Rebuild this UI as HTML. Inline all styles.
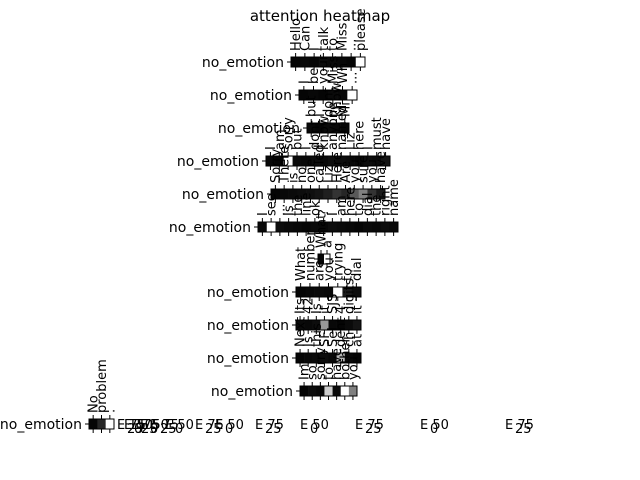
<!DOCTYPE html>
<html><head><meta charset="utf-8"><style>
body{margin:0;background:#fff;}
svg{display:block;font-family:"DejaVu Sans","Liberation Sans",sans-serif;}
</style></head><body>
<svg id="c" width="640" height="480">
<text x="320" y="21" text-anchor="middle" font-size="15">attention heatmap</text>
</svg>
<script>
const rowLabels = ["no_emotion","no_emotion","no_emotion","no_emotion","no_emotion","no_emotion","","no_emotion","no_emotion","no_emotion","no_emotion","no_emotion"];
const rowWords = [
 ["Hello","Can","I","talk","to","Miss","...","please"],
 ["I","be","your","Miss","Wh","..."],
 ["but","I","dont","know","Mi"],
 ["I","am","sorry","but","I","dont","know","anyone","named","Liz","here","I","must","have"],
 ["Sorry","There","is","no","one","called","Liz","Here","Are","you","sure","you","have"],
 ["I","see","...","Is","the","line","ok","?","I","am","here","to","dial","the","right","name"],
 ["What","a"],
 ["What","number","are","you","trying","to","dial"],
 ["Its","42","Is","it","SJS","4","digits","it"],
 ["Next","Is","this","SF","Sel","dent","ch","at"],
 ["Im","so","sorry","to","have","bother","you"],
 ["No","problem","."]
];
const rowValues = [
 [0.02,0.03,0.02,0.05,0.04,0.03,0.02,1],
 [0.02,0.03,0.02,0.04,0.03,1],
 [0.03,0.02,0.04,0.03,0.02],
 [0.03,0.02,1,0.04,0.03,0.05,0.04,0.06,0.05,0.04,0.03,0.05,0.04,0.08],
 [0.02,0.03,0.04,0.05,0.06,0.08,0.12,0.2,0.15,0.35,0.5,0.2,0.1],
 [0.03,1,0.05,0.04,0.03,0.02,0.04,0.03,0.05,0.04,0.03,0.02,0.04,0.03,0.05,0.04],
 [0.02,1],
 [0.02,0.03,0.04,0.03,1,0.1,0.05],
 [0.04,0.03,0.05,0.6,0.03,0.02,0.04,0.08],
 [0.02,0.03,0.04,0.05,0.03,0.7,0.03,0.02],
 [0.02,0.05,0.03,0.8,0.04,1,0.5],
 [0.02,0.15,1]
];
const geom = [[291,365,62],[299,357,95],[307,349,128],[266,390,161],[271,385,194],[258,398,227],[318,330,259],[296,361,292],[296,361,325],[296,361,358],[300,357,391],[89,114,424]];
const cbLabels = ["75","50","25","0"];
const cbX = [117,124,131,140,150,165,195,215,255,300,355,420,505];

const svg = document.getElementById('c');
const NS = 'http://www.w3.org/2000/svg';
function gray(v){const g=Math.round(255*Math.max(0,Math.min(1,v)));return `rgb(${g},${g},${g})`;}
function xScale(r,i){const [a,b]=geom[r];return a+(b-a)*i/rowValues[r].length;}
rowValues.forEach((vals,r)=>{
  const [a,b,cy]=geom[r];
  const h=10, y0=cy-h/2, n=vals.length, w=(b-a)/n;
  const g=document.createElementNS(NS,'g');
  
  
  svg.appendChild(g);
  vals.forEach((v,i)=>{
    const rc=document.createElementNS(NS,'rect');
    rc.setAttribute('x',xScale(r,i));rc.setAttribute('y',y0);
    rc.setAttribute('width',w+0.3);rc.setAttribute('height',h);
    rc.setAttribute('fill',gray(v));
    
    
    g.appendChild(rc);
    const cx=xScale(r,i)+w/2;
    const t1=document.createElementNS(NS,'line');
    t1.setAttribute('x1',cx);t1.setAttribute('x2',cx);t1.setAttribute('y1',y0-4);t1.setAttribute('y2',y0);
    t1.setAttribute('stroke','#000');g.appendChild(t1);
    const t2=document.createElementNS(NS,'line');
    t2.setAttribute('x1',cx);t2.setAttribute('x2',cx);t2.setAttribute('y1',y0+h);t2.setAttribute('y2',y0+h+4);
    t2.setAttribute('stroke','#000');g.appendChild(t2);
    const wd=rowWords[r][i];
    if(wd){
      const tx=document.createElementNS(NS,'text');
      tx.setAttribute('transform',`translate(${cx+4.5},${y0-6}) rotate(-90)`);
      tx.setAttribute('font-size','13');tx.textContent=wd;
      
      
      g.appendChild(tx);
    }
  });
  const fr=document.createElementNS(NS,'rect');
  fr.setAttribute('x',a);fr.setAttribute('y',y0);fr.setAttribute('width',b-a);fr.setAttribute('height',h);
  fr.setAttribute('fill','none');fr.setAttribute('stroke','#000');fr.setAttribute('stroke-width','1');
  g.appendChild(fr);
  const yt=document.createElementNS(NS,'line');
  yt.setAttribute('x1',a-4);yt.setAttribute('x2',a);yt.setAttribute('y1',cy);yt.setAttribute('y2',cy);
  yt.setAttribute('stroke','#000');g.appendChild(yt);
  if(rowLabels[r]){
    const lb=document.createElementNS(NS,'text');
    lb.setAttribute('x',a-7);lb.setAttribute('y',cy+5);lb.setAttribute('text-anchor','end');
    lb.setAttribute('font-size','14');lb.textContent=rowLabels[r];
    
    
    g.appendChild(lb);
  }
});
cbX.forEach((x,i)=>{
  const tk=document.createElementNS(NS,'text');
  tk.setAttribute('x',x);tk.setAttribute('y',429);tk.setAttribute('font-size','13');
  tk.textContent='E '+cbLabels[i%2];
  
  
  svg.appendChild(tk);
  const tk2=document.createElementNS(NS,'text');
  tk2.setAttribute('x',x+10);tk2.setAttribute('y',433);tk2.setAttribute('font-size','13');
  tk2.textContent=cbLabels[2+(i%2)];
  
  
  svg.appendChild(tk2);
});
</script>
</body></html>
